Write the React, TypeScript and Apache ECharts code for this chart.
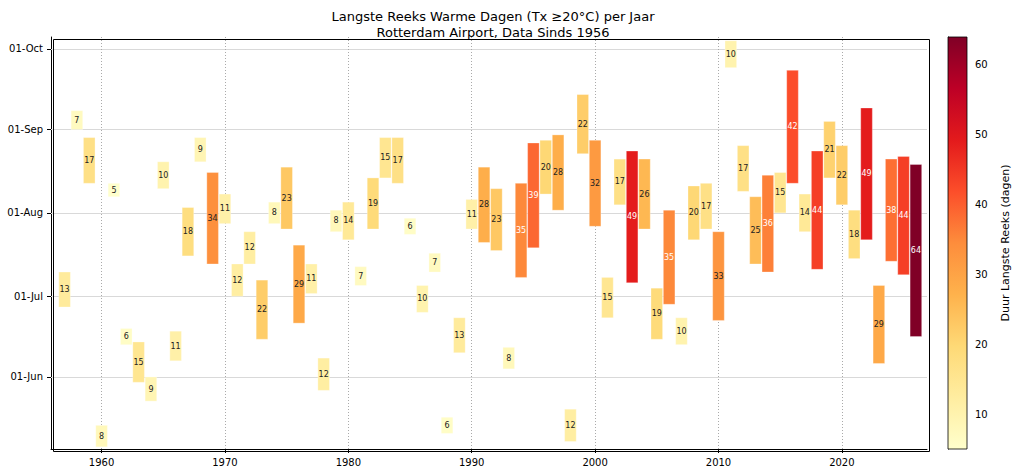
import { useEffect, useRef } from "react";
import * as echarts from "echarts";

const years = Array.from({ length: 70 }, (_, i) => 1957 + i);
const startDay = [
  178, 244, 224, 126, 219, 164, 150, 143, 222, 158, 197, 232, 194, 209, 182, 194, 166, 209,
  207, 172, 183, 147, 206, 203, 186, 207, 226, 224, 205, 176, 191, 131, 161, 207, 202, 199,
  155, 189, 200, 220, 214, 128, 235, 208, 174, 216, 187, 207, 166, 179, 164, 203, 207,
  173, 267, 221, 194, 191, 213, 224, 206, 192, 226, 216, 196, 203, 157, 195, 190, 167,
];
const duration = [
  13, 7, 17, 8, 5, 6, 15, 9, 10, 11, 18, 9, 34, 11, 12, 12, 22, 8,
  23, 29, 11, 12, 8, 14, 7, 19, 15, 17, 6, 10, 7, 6, 13, 11, 28, 23,
  8, 35, 39, 20, 28, 12, 22, 32, 15, 17, 49, 26, 19, 35, 10, 20, 17,
  33, 10, 17, 25, 36, 15, 42, 14, 44, 21, 22, 18, 49, 29, 38, 44, 64,
];
const yTicks = [152, 182, 213, 244, 274];
const yTickLabels = ["01-Jun", "01-Jul", "01-Aug", "01-Sep", "01-Oct"];
const xTicks = [1960, 1970, 1980, 1990, 2000, 2010, 2020];
const cbarTicks = [10, 20, 30, 40, 50, 60];
const ylorrd = ["#ffffcc", "#ffeda0", "#fed976", "#feb24c", "#fd8d3c", "#fc4e2a", "#e31a1c", "#bd0026", "#800026"];
const vMin = 5;
const vMax = 64;

const colorOf = (v: number) => {
  const t = Math.max(0, Math.min(1, (v - vMin) / (vMax - vMin))) * (ylorrd.length - 1);
  const i = Math.min(Math.floor(t), ylorrd.length - 2);
  const f = t - i;
  const a = echarts.color.parse(ylorrd[i]);
  const b = echarts.color.parse(ylorrd[i + 1]);
  const c = [0, 1, 2].map((k) => Math.round(a[k] + (b[k] - a[k]) * f));
  return `rgb(${c[0]},${c[1]},${c[2]})`;
};

export default function App() {
  const ref = useRef<HTMLDivElement>(null);

  useEffect(() => {
    if (!ref.current) return;
    document.body.style.margin = "0";
    const chart = echarts.init(ref.current, null, { renderer: "svg" });
    const font = "DejaVu Sans";
    const data = years.map((y, i) => [y, startDay[i], duration[i]]);
    const option: any = {
      animation: false,
      textStyle: { fontFamily: font },
      title: {
        text: "Langste Reeks Warme Dagen (Tx ≥20°C) per Jaar\nRotterdam Airport, Data Sinds 1956",
        left: 488,
        textAlign: "center",
        top: 3,
        textStyle: { fontSize: 13, fontWeight: "normal", color: "#000", lineHeight: 16, fontFamily: font },
      },
      grid: [
        { left: 51, right: 97, top: 37, bottom: 24 },
        { left: 948, width: 19, top: 37, bottom: 24 },
      ],
      xAxis: [
        {
          type: "value", min: 1955.9, max: 2026.9, gridIndex: 0,
          axisLine: { lineStyle: { color: "#000" } },
          axisTick: { customValues: xTicks, length: 4, lineStyle: { color: "#000" } },
          axisLabel: { customValues: xTicks, color: "#000", fontSize: 10, fontFamily: font, formatter: (v: number) => String(v) },
          splitLine: { show: false },
        },
        { type: "value", gridIndex: 1, min: 0, max: 1, show: false },
      ],
      yAxis: [
        {
          type: "value", min: 125.2, max: 278.4, gridIndex: 0,
          axisLine: { show: true, lineStyle: { color: "#000" } },
          axisTick: { show: true, customValues: yTicks, length: 4, lineStyle: { color: "#000" } },
          axisLabel: {
            customValues: yTicks, color: "#000", fontSize: 10, fontFamily: font,
            formatter: (v: number) => yTickLabels[yTicks.indexOf(v)] ?? "",
          },
          splitLine: { show: false },
        },
        {
          type: "value", min: vMin, max: vMax, gridIndex: 1, position: "right",
          name: "Duur Langste Reeks (dagen)", nameLocation: "middle", nameRotate: 90, nameGap: 33,
          nameTextStyle: { fontSize: 11, color: "#000", fontFamily: font },
          axisLine: { show: true, lineStyle: { color: "#000" } },
          axisTick: { show: true, customValues: cbarTicks, length: 4, lineStyle: { color: "#000" } },
          axisLabel: { customValues: cbarTicks, color: "#000", fontSize: 10, fontFamily: font },
          splitLine: { show: false },
        },
      ],
      series: [
        {
          type: "line",
          xAxisIndex: 0,
          yAxisIndex: 0,
          data: [],
          z: 1,
          markLine: {
            silent: true, symbol: "none", label: { show: false }, z: 1,
            data: [
              ...yTicks.map((v) => ({ yAxis: v, lineStyle: { color: "#d9d9d9", type: "solid", width: 1 } })),
              ...xTicks.map((v) => ({ xAxis: v, lineStyle: { color: "#aaa", type: [1, 2], width: 1 } })),
            ],
          },
        },
        {
          type: "custom",
          xAxisIndex: 0,
          yAxisIndex: 0,
          data,
          z: 5,
          renderItem: (params: any, api: any) => {
            const x = api.value(0);
            const s = api.value(1);
            const d = api.value(2);
            const p0 = api.coord([x - 0.47, s]);
            const p1 = api.coord([x + 0.47, s + d]);
            const col = colorOf(d);
            return {
              type: "group",
              children: [
                {
                  type: "rect",
                  shape: { x: p0[0], y: p1[1], width: p1[0] - p0[0], height: p0[1] - p1[1] },
                  style: { fill: col, stroke: "rgba(255,255,255,0.5)", lineWidth: 0.6 },
                },
                {
                  type: "text",
                  style: {
                    x: (p0[0] + p1[0]) / 2, y: (p0[1] + p1[1]) / 2,
                    text: String(d), align: "center", verticalAlign: "middle",
                    fill: d >= 35 ? "#fff" : "#222", fontSize: 8, fontFamily: font,
                  },
                },
              ],
            };
          },
        },
        {
          type: "custom",
          xAxisIndex: 1,
          yAxisIndex: 1,
          data: [[0, vMin, vMax]],
          renderItem: (params: any, api: any) => {
            const a = api.coord([0, vMin]);
            const b = api.coord([1, vMax]);
            return {
              type: "rect",
              shape: { x: a[0], y: b[1], width: b[0] - a[0], height: a[1] - b[1] },
              style: {
                fill: new echarts.graphic.LinearGradient(
                  0, 1, 0, 0,
                  ylorrd.map((c, i) => ({ offset: i / (ylorrd.length - 1), color: c }))
                ),
                stroke: "#000", lineWidth: 0.8,
              },
            };
          },
        },
      ],
      graphic: [
        {
          type: "rect", left: 51, top: 37,
          shape: { width: 1024 - 97 - 51, height: 473 - 37 - 24 },
          style: { fill: "none", stroke: "#000", lineWidth: 1 }, z: 10, silent: true,
        },
      ],
    };
    chart.setOption(option);
    return () => chart.dispose();
  }, []);

  return <div ref={ref} style={{ width: 1024, height: 473 }} />;
}
